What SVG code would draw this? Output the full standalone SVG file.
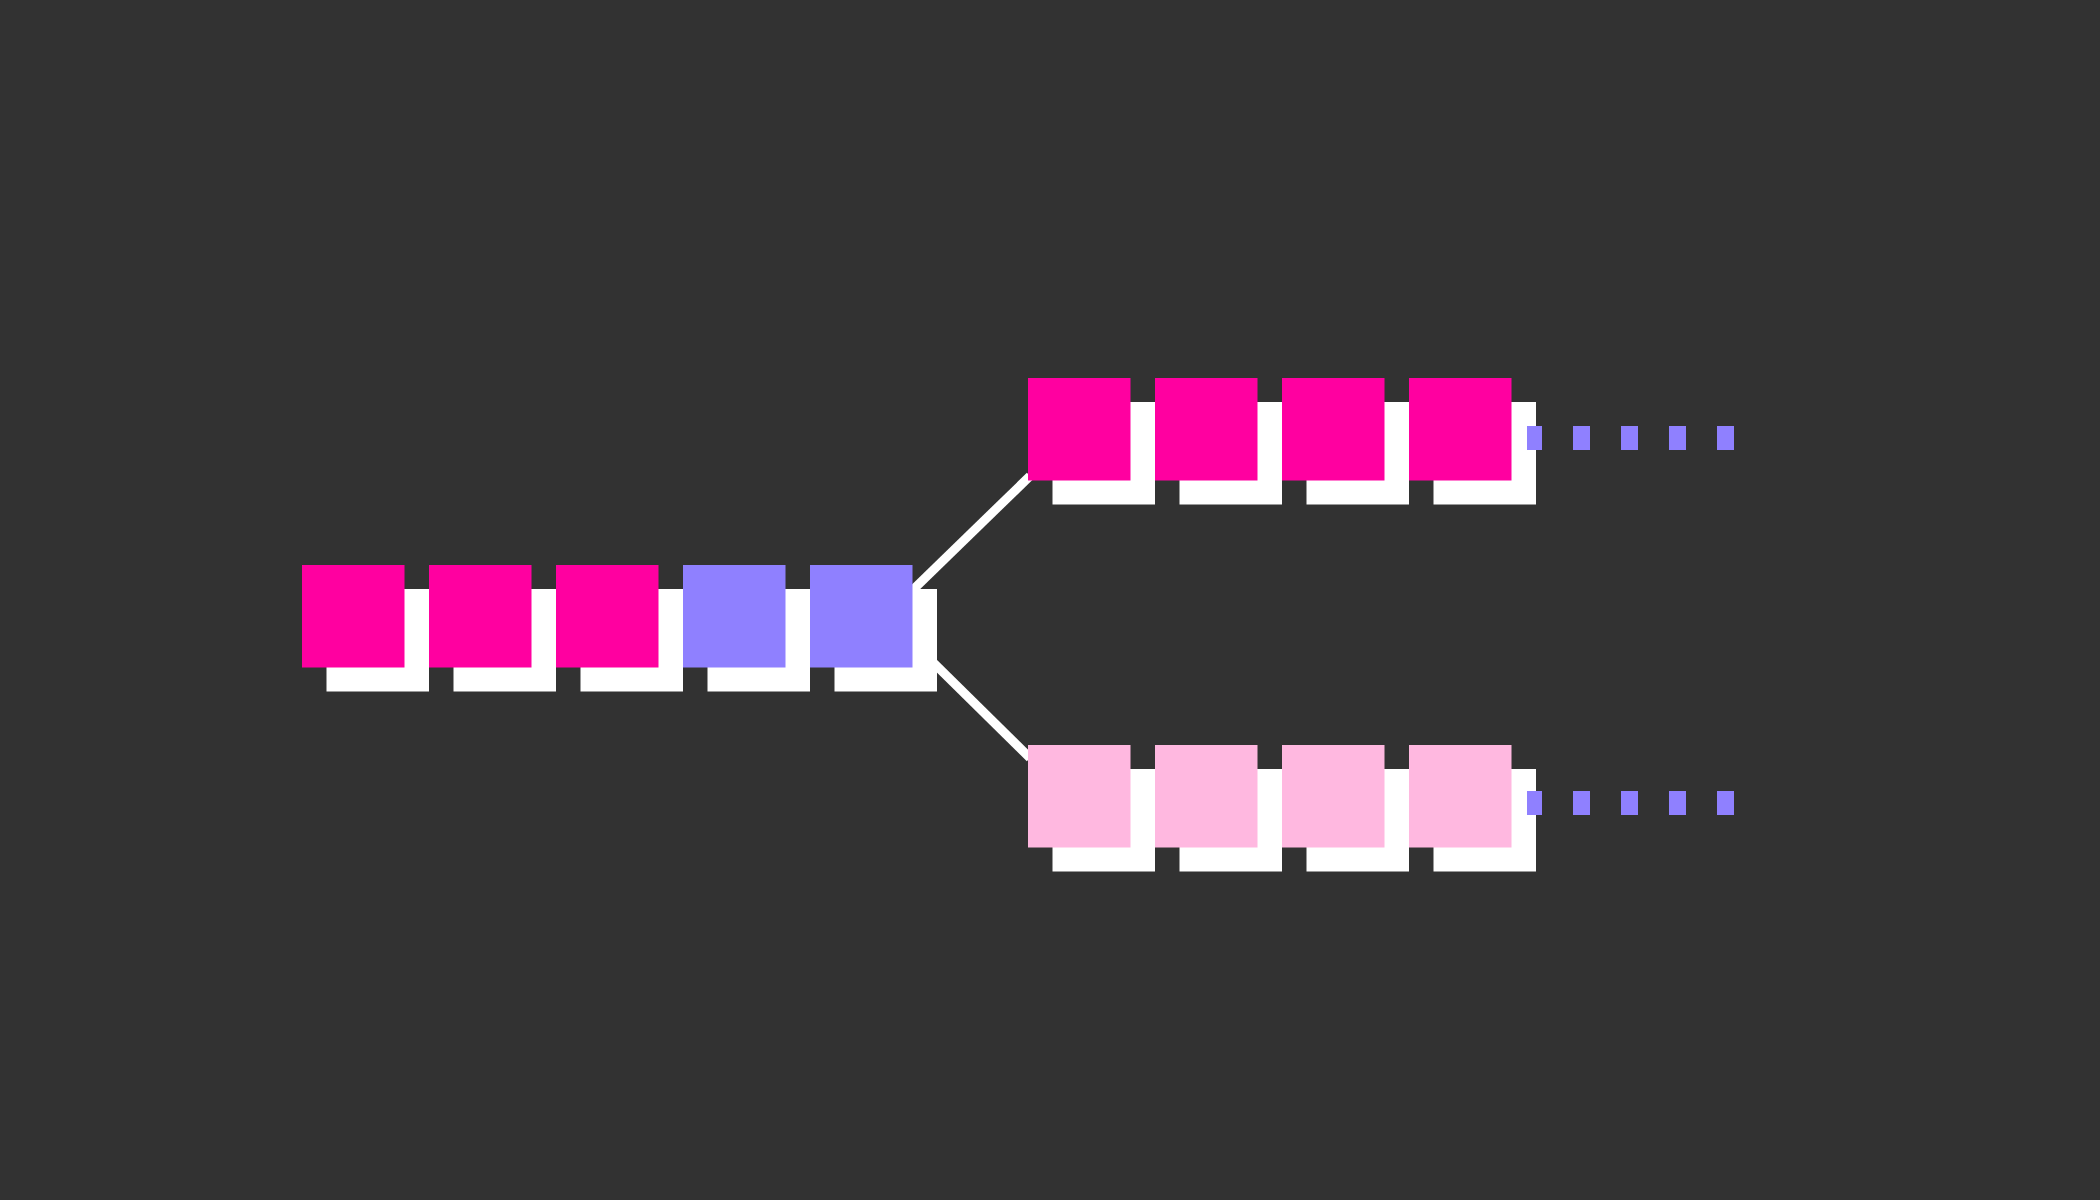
<svg xmlns="http://www.w3.org/2000/svg" width="2100" height="1200" viewBox="0 0 2100 1200">
<style>
.bg{fill:#323232}
.sh{fill:#ffffff}
.pk{fill:#ff00a0}
.pu{fill:#8f80ff}
.lp{fill:#ffb8e0}
.dot{fill:#8f80ff}
.conn{stroke:#ffffff;stroke-width:9;fill:none}
</style>
<defs>
<rect id="shadow" x="24.5" y="24" width="102.5" height="102.5"/>
</defs>
<rect class="bg" x="0" y="0" width="2100" height="1200"/>
<g id="connectors">
<line class="conn" x1="886" y1="616" x2="1030" y2="476"/>
<line class="conn" x1="886" y1="616" x2="1030" y2="758"/>
</g>
<g id="left-row">
<g id="l1" transform="translate(302,565)"><use href="#shadow" class="sh"/><rect class="pk" width="102.5" height="102.5"/></g>
<g id="l2" transform="translate(429,565)"><use href="#shadow" class="sh"/><rect class="pk" width="102.5" height="102.5"/></g>
<g id="l3" transform="translate(556,565)"><use href="#shadow" class="sh"/><rect class="pk" width="102.5" height="102.5"/></g>
<g id="l4" transform="translate(683,565)"><use href="#shadow" class="sh"/><rect class="pu" width="102.5" height="102.5"/></g>
<g id="l5" transform="translate(810,565)"><use href="#shadow" class="sh"/><rect class="pu" width="102.5" height="102.5"/></g>
</g>
<g id="top-row">
<g id="t1" transform="translate(1028,378)"><use href="#shadow" class="sh"/><rect class="pk" width="102.5" height="102.5"/></g>
<g id="t2" transform="translate(1155,378)"><use href="#shadow" class="sh"/><rect class="pk" width="102.5" height="102.5"/></g>
<g id="t3" transform="translate(1282,378)"><use href="#shadow" class="sh"/><rect class="pk" width="102.5" height="102.5"/></g>
<g id="t4" transform="translate(1409,378)"><use href="#shadow" class="sh"/><rect class="pk" width="102.5" height="102.5"/></g>
</g>
<g id="top-dots">
<rect class="dot" x="1527" y="426" width="15" height="24"/>
<rect class="dot" x="1573" y="426" width="17" height="24"/>
<rect class="dot" x="1621" y="426" width="17" height="24"/>
<rect class="dot" x="1669" y="426" width="17" height="24"/>
<rect class="dot" x="1717" y="426" width="17" height="24"/>
</g>
<g id="bottom-row">
<g id="b1" transform="translate(1028,745)"><use href="#shadow" class="sh"/><rect class="lp" width="102.5" height="102.5"/></g>
<g id="b2" transform="translate(1155,745)"><use href="#shadow" class="sh"/><rect class="lp" width="102.5" height="102.5"/></g>
<g id="b3" transform="translate(1282,745)"><use href="#shadow" class="sh"/><rect class="lp" width="102.5" height="102.5"/></g>
<g id="b4" transform="translate(1409,745)"><use href="#shadow" class="sh"/><rect class="lp" width="102.5" height="102.5"/></g>
</g>
<g id="bottom-dots">
<rect class="dot" x="1527" y="791" width="15" height="24"/>
<rect class="dot" x="1573" y="791" width="17" height="24"/>
<rect class="dot" x="1621" y="791" width="17" height="24"/>
<rect class="dot" x="1669" y="791" width="17" height="24"/>
<rect class="dot" x="1717" y="791" width="17" height="24"/>
</g>
</svg>
